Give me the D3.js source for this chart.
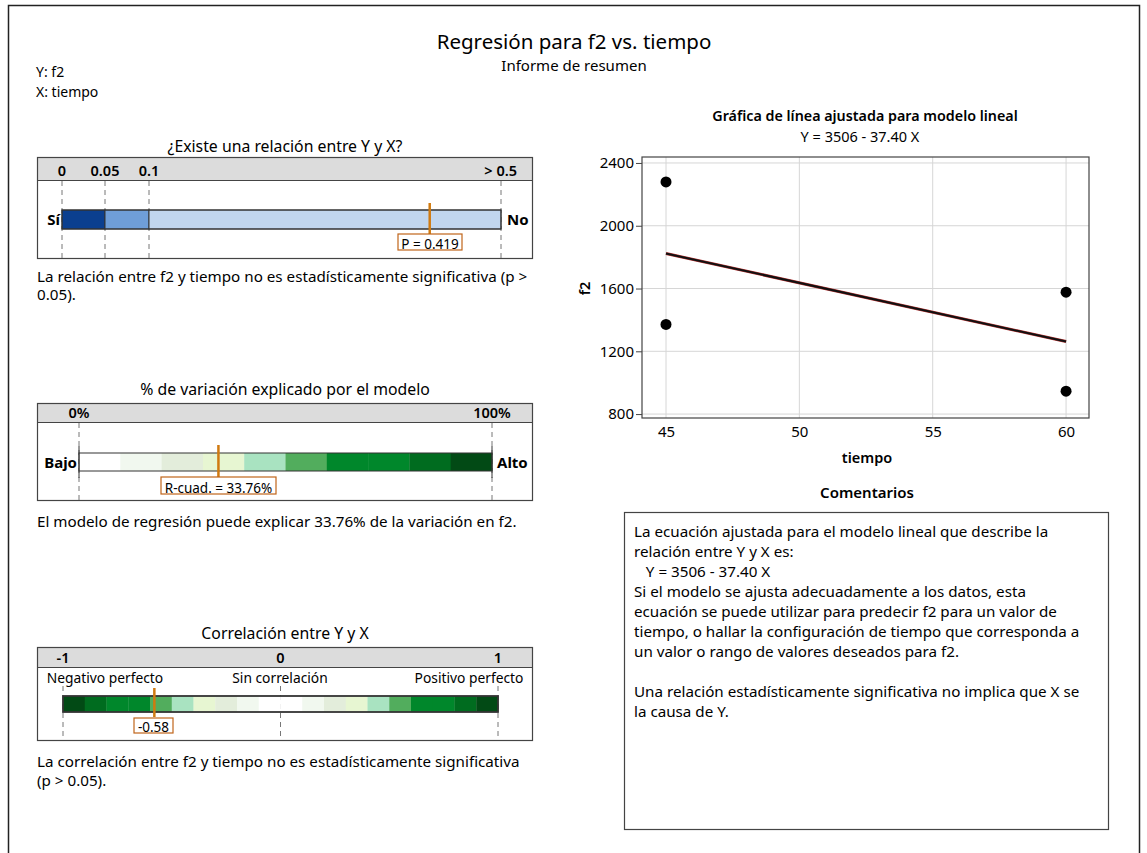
<!DOCTYPE html>
<html><head><meta charset="utf-8">
<script src="https://cdn.jsdelivr.net/npm/d3@7"></script>
<style>
body{margin:0;background:#fff;}
text{font-family:"Noto Sans","Open Sans",sans-serif;fill:#000;}
</style></head>
<body><svg id="c" width="1147" height="853"></svg>
<script>
// ---- data ----
const pBreaks = [0, 0.05, 0.1, 0.5];
const pTickLabels = ["0", "0.05", "0.1", "> 0.5"];
const pColors = ["#0b3f8f", "#6f9ed8", "#c1d6ee"];
const pValue = 0.419;

const rsqTicks = [0, 100];
const rsqTickLabels = ["0%", "100%"];
const rsqColors = ["#ffffff","#f1f8ef","#e3eddb","#e7f6d2","#a9e3c1","#52ad5d","#00872b","#00872b","#006c1f","#024a15"];
const rsqValue = 33.76;

const corrTicks = [-1, 0, 1];
const corrTickLabels = ["-1", "0", "1"];
const corrSubLabels = ["Negativo perfecto", "Sin correlación", "Positivo perfecto"];
const corrColors = ["#024a15","#006c1f","#00872b","#00872b","#52ad5d","#a9e3c1","#e7f6d2","#e3eddb","#f1f8ef","#ffffff",
                    "#ffffff","#f1f8ef","#e3eddb","#e7f6d2","#a9e3c1","#52ad5d","#00872b","#00872b","#006c1f","#024a15"];
const corrValue = -0.58;

const tiempo = [45, 45, 60, 60];
const f2 = [2279, 1371, 1577, 946];
const intercept = 3506, slope = -37.40;
const xTicks = [45, 50, 55, 60];
const yTicks = [800, 1200, 1600, 2000, 2400];

const commentLines = [
 "La ecuación ajustada para el modelo lineal que describe la",
 "relación entre Y y X es:",
 "   Y = 3506 - 37.40 X",
 "Si el modelo se ajusta adecuadamente a los datos, esta",
 "ecuación se puede utilizar para predecir f2 para un valor de",
 "tiempo, o hallar la configuración de tiempo que corresponda a",
 "un valor o rango de valores deseados para f2.",
 "",
 "Una relación estadísticamente significativa no implica que X se",
 "la causa de Y."
];

// ---- drawing ----
const BODY = 15.2;
const svg = d3.select("#c");
svg.append("rect").attr("x",8.5).attr("y",5.5).attr("width",1131).attr("height",860)
  .attr("fill","none").attr("stroke","#222").attr("stroke-width",1.5);

svg.append("text").attr("x",574).attr("y",49).attr("text-anchor","middle").attr("font-size",20.5).text("Regresión para f2 vs. tiempo");
svg.append("text").attr("x",574).attr("y",71).attr("text-anchor","middle").attr("font-size",15).text("Informe de resumen");
svg.append("text").attr("x",36).attr("y",77).attr("font-size",14).text("Y: f2");
svg.append("text").attr("x",36).attr("y",97).attr("font-size",14).text("X: tiempo");

function gaugeFrame(top, bottom, headerBottom, title, titleY){
  svg.append("text").attr("x",285).attr("y",titleY).attr("text-anchor","middle").attr("font-size",15.8).text(title);
  svg.append("rect").attr("x",37.5).attr("y",top+0.5).attr("width",495).attr("height",headerBottom-top).attr("fill","#dcdcdc");
  svg.append("rect").attr("x",37.5).attr("y",top+0.5).attr("width",495).attr("height",bottom-top)
    .attr("fill","none").attr("stroke","#444").attr("stroke-width",1.2);
  svg.append("line").attr("x1",37.5).attr("x2",532.5).attr("y1",headerBottom+0.5).attr("y2",headerBottom+0.5).attr("stroke","#444");
}
function dashed(x,y1,y2){
  svg.append("line").attr("x1",x).attr("x2",x).attr("y1",y1).attr("y2",y2)
    .attr("stroke","#777").attr("stroke-dasharray","5,4").attr("stroke-width",1);
}
function marker(x, y1, y2, label, bx, by, bw, bh){
  svg.append("line").attr("x1",x).attr("x2",x).attr("y1",y1).attr("y2",y2).attr("stroke","#d07a10").attr("stroke-width",2.5);
  svg.append("rect").attr("x",bx).attr("y",by).attr("width",bw).attr("height",bh)
    .attr("fill","#fff").attr("stroke","#c0651a").attr("stroke-width",1.2);
  svg.append("text").attr("x",bx+bw/2).attr("y",by+bh-1).attr("text-anchor","middle").attr("font-size",13.5).text(label);
}

// Panel 1: p-value
gaugeFrame(157, 258, 180, "¿Existe una relación entre Y y X?", 152);
const px = d3.scaleLinear().domain(pBreaks).range([62, 105, 149, 501]);
pBreaks.forEach((b,i)=>{
  dashed(px(b), 181, 258);
  const anchor = i===3 ? "end" : "middle";
  const xx = i===3 ? 517 : px(b);
  svg.append("text").attr("x",xx).attr("y",176).attr("text-anchor",anchor).attr("font-size",14.5).attr("font-weight",600).text(pTickLabels[i]);
});
pColors.forEach((c,i)=>{
  svg.append("rect").attr("x",px(pBreaks[i])).attr("y",210).attr("width",px(pBreaks[i+1])-px(pBreaks[i])).attr("height",19)
    .attr("fill",c).attr("stroke","#333").attr("stroke-width",1);
});
svg.append("rect").attr("x",px(0)).attr("y",210).attr("width",px(0.5)-px(0)).attr("height",19).attr("fill","none").attr("stroke","#333");
svg.append("text").attr("x",60).attr("y",225).attr("text-anchor","end").attr("font-size",15).attr("font-weight",700).text("Sí");
svg.append("text").attr("x",507).attr("y",225).attr("font-size",15).attr("font-weight",700).text("No");
marker(px(pValue), 203, 235, "P = 0.419", 398, 234, 64, 16);
svg.append("text").attr("x",37).attr("y",282).attr("font-size",BODY).text("La relación entre f2 y tiempo no es estadísticamente significativa (p >");
svg.append("text").attr("x",37).attr("y",300).attr("font-size",BODY).text("0.05).");

// Panel 2: R-squared
gaugeFrame(403, 500, 422, "% de variación explicado por el modelo", 395);
const rx = d3.scaleLinear().domain([0,100]).range([79, 492]);
rsqTicks.forEach((t,i)=>{
  dashed(rx(t), 423, 500);
  svg.append("text").attr("x", rx(t)).attr("y",418).attr("text-anchor","middle")
    .attr("font-size",14.5).attr("font-weight",600).text(rsqTickLabels[i]);
});
rsqColors.forEach((c,i)=>{
  svg.append("rect").attr("x",rx(i*10)).attr("y",453).attr("width",rx(10)-rx(0)+0.3).attr("height",18).attr("fill",c);
});
svg.append("rect").attr("x",rx(0)).attr("y",453).attr("width",rx(100)-rx(0)).attr("height",18).attr("fill","none").attr("stroke","#333");
svg.append("line").attr("x1",rx(0)).attr("x2",rx(0)).attr("y1",446).attr("y2",478).attr("stroke","#333");
svg.append("line").attr("x1",rx(100)).attr("x2",rx(100)).attr("y1",446).attr("y2",478).attr("stroke","#333");
svg.append("text").attr("x",77).attr("y",468).attr("text-anchor","end").attr("font-size",15).attr("font-weight",700).text("Bajo");
svg.append("text").attr("x",497).attr("y",468).attr("font-size",15).attr("font-weight",700).text("Alto");
marker(rx(rsqValue), 445, 478, "R-cuad. = 33.76%", 161, 477, 115, 17);
svg.append("text").attr("x",37).attr("y",527).attr("font-size",BODY).text("El modelo de regresión puede explicar 33.76% de la variación en f2.");

// Panel 3: correlation
gaugeFrame(647, 740, 667, "Correlación entre Y y X", 639);
const cx = d3.scaleLinear().domain([-1,1]).range([63, 498]);
corrTicks.forEach((t,i)=>{
  dashed(cx(t), 686, 740);
  svg.append("text").attr("x",cx(t)).attr("y",663).attr("text-anchor","middle").attr("font-size",14.5).attr("font-weight",600).text(corrTickLabels[i]);
});
svg.append("text").attr("x",105).attr("y",683).attr("text-anchor","middle").attr("font-size",13.8).text(corrSubLabels[0]);
svg.append("text").attr("x",280).attr("y",683).attr("text-anchor","middle").attr("font-size",13.8).text(corrSubLabels[1]);
svg.append("text").attr("x",469).attr("y",683).attr("text-anchor","middle").attr("font-size",13.8).text(corrSubLabels[2]);
corrColors.forEach((c,i)=>{
  const v = -1 + i*0.1;
  svg.append("rect").attr("x",cx(v)).attr("y",696).attr("width",cx(-0.9)-cx(-1)+0.3).attr("height",16).attr("fill",c);
});
svg.append("rect").attr("x",cx(-1)).attr("y",696).attr("width",cx(1)-cx(-1)).attr("height",16).attr("fill","none").attr("stroke","#333").attr("stroke-width",1.8);
marker(cx(corrValue), 688, 717, "-0.58", 134, 718, 39, 15);
svg.append("text").attr("x",37).attr("y",767).attr("font-size",BODY).text("La correlación entre f2 y tiempo no es estadísticamente significativa");
svg.append("text").attr("x",37).attr("y",786).attr("font-size",BODY).text("(p > 0.05).");

// Scatter plot
const plot = {l:642, r:1089, t:157, b:418};
const xs = d3.scaleLinear().domain([44.1, 60.86]).range([plot.l, plot.r]);
const ys = d3.scaleLinear().domain([775, 2438]).range([plot.b, plot.t]);
svg.append("text").attr("x",865).attr("y",121).attr("text-anchor","middle").attr("font-size",14.3).attr("font-weight",600).text("Gráfica de línea ajustada para modelo lineal");
svg.append("text").attr("x",860).attr("y",142).attr("text-anchor","middle").attr("font-size",14.5).text("Y = 3506 - 37.40 X");
const g = svg.append("g");
g.selectAll(".gx").data(xTicks).enter().append("line").attr("x1",d=>xs(d)).attr("x2",d=>xs(d)).attr("y1",plot.t).attr("y2",plot.b).attr("stroke","#d6d6d6");
g.selectAll(".gy").data(yTicks).enter().append("line").attr("y1",d=>ys(d)).attr("y2",d=>ys(d)).attr("x1",plot.l).attr("x2",plot.r).attr("stroke","#d6d6d6");
svg.append("rect").attr("x",plot.l).attr("y",plot.t).attr("width",plot.r-plot.l).attr("height",plot.b-plot.t).attr("fill","none").attr("stroke","#444").attr("stroke-width",1.2);
const xAxis = svg.append("g").attr("transform",`translate(0,${plot.b})`).call(d3.axisBottom(xs).tickValues(xTicks).tickSize(0).tickPadding(8));
const yAxis = svg.append("g").attr("transform",`translate(${plot.l},0)`).call(d3.axisLeft(ys).tickValues(yTicks).tickSize(6).tickPadding(2).tickFormat(d3.format("d")));
[xAxis,yAxis].forEach(a=>{a.select(".domain").remove(); a.selectAll("text").attr("font-size",15).attr("fill","#000").style("font-family","Noto Sans"); a.selectAll("line").attr("stroke","#444");});
svg.append("text").attr("x",867).attr("y",463).attr("text-anchor","middle").attr("font-size",14.5).attr("font-weight",600).text("tiempo");
svg.append("text").attr("transform",`translate(590,${ys(1600)}) rotate(-90)`).attr("text-anchor","middle").attr("font-size",14.5).attr("font-weight",600).text("f2");
const line = d3.line().x(d=>xs(d)).y(d=>ys(intercept + slope*d));
svg.append("path").datum([45,60]).attr("d",line).attr("stroke","#b03030").attr("stroke-width",3).attr("fill","none");
svg.append("path").datum([45,60]).attr("d",line).attr("stroke","#111").attr("stroke-width",2).attr("fill","none");
svg.selectAll(".pt").data(tiempo.map((t,i)=>[t,f2[i]])).enter().append("circle")
  .attr("cx",d=>xs(d[0])).attr("cy",d=>ys(d[1])).attr("r",5.5).attr("fill","#000");

// Comments
svg.append("text").attr("x",867).attr("y",498).attr("text-anchor","middle").attr("font-size",15).attr("font-weight",600).text("Comentarios");
svg.append("rect").attr("x",624.5).attr("y",512.5).attr("width",484).attr("height",317).attr("fill","none").attr("stroke","#444").attr("stroke-width",1.2);
commentLines.forEach((l,i)=>{
  svg.append("text").attr("x",634).attr("y",537+i*20).attr("font-size",BODY).attr("xml:space","preserve").style("white-space","pre").text(l);
});
</script></body></html>
